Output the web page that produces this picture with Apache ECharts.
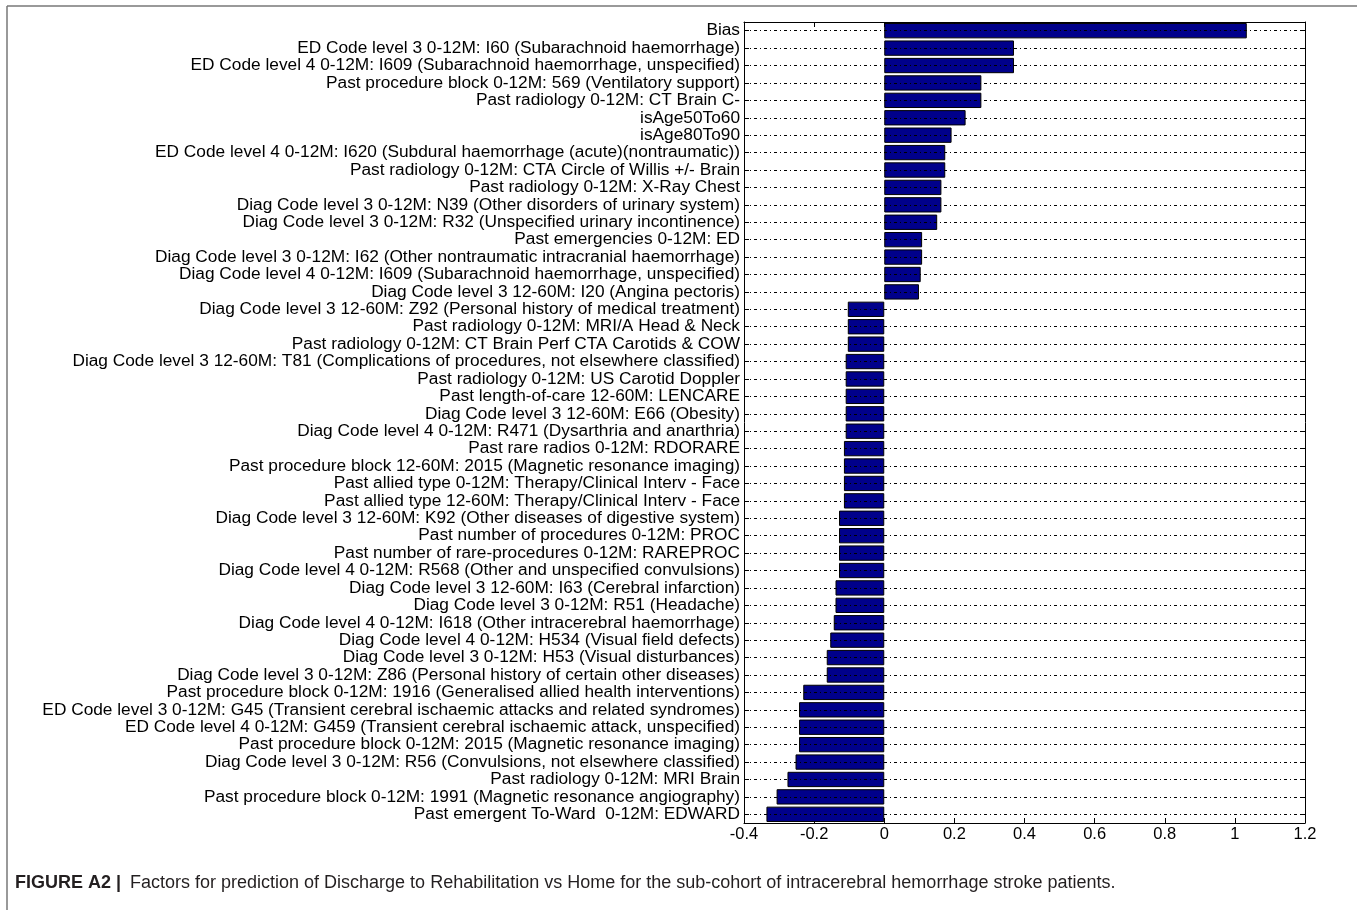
<!DOCTYPE html>
<html>
<head>
<meta charset="utf-8">
<script src="https://cdn.jsdelivr.net/npm/echarts@6/dist/echarts.min.js"></script>
<style>
html,body{margin:0;padding:0;background:#fff;}
#c{width:1357px;height:910px;}
</style>
</head>
<body>
<div id="c"></div>
<script>
const categories = [
  "Bias",
  "ED Code level 3 0-12M: I60 (Subarachnoid haemorrhage)",
  "ED Code level 4 0-12M: I609 (Subarachnoid haemorrhage, unspecified)",
  "Past procedure block 0-12M: 569 (Ventilatory support)",
  "Past radiology 0-12M: CT Brain C-",
  "isAge50To60",
  "isAge80To90",
  "ED Code level 4 0-12M: I620 (Subdural haemorrhage (acute)(nontraumatic))",
  "Past radiology 0-12M: CTA Circle of Willis +/- Brain",
  "Past radiology 0-12M: X-Ray Chest",
  "Diag Code level 3 0-12M: N39 (Other disorders of urinary system)",
  "Diag Code level 3 0-12M: R32 (Unspecified urinary incontinence)",
  "Past emergencies 0-12M: ED",
  "Diag Code level 3 0-12M: I62 (Other nontraumatic intracranial haemorrhage)",
  "Diag Code level 4 0-12M: I609 (Subarachnoid haemorrhage, unspecified)",
  "Diag Code level 3 12-60M: I20 (Angina pectoris)",
  "Diag Code level 3 12-60M: Z92 (Personal history of medical treatment)",
  "Past radiology 0-12M: MRI/A Head & Neck",
  "Past radiology 0-12M: CT Brain Perf CTA Carotids & COW",
  "Diag Code level 3 12-60M: T81 (Complications of procedures, not elsewhere classified)",
  "Past radiology 0-12M: US Carotid Doppler",
  "Past length-of-care 12-60M: LENCARE",
  "Diag Code level 3 12-60M: E66 (Obesity)",
  "Diag Code level 4 0-12M: R471 (Dysarthria and anarthria)",
  "Past rare radios 0-12M: RDORARE",
  "Past procedure block 12-60M: 2015 (Magnetic resonance imaging)",
  "Past allied type 0-12M: Therapy/Clinical Interv - Face",
  "Past allied type 12-60M: Therapy/Clinical Interv - Face",
  "Diag Code level 3 12-60M: K92 (Other diseases of digestive system)",
  "Past number of procedures 0-12M: PROC",
  "Past number of rare-procedures 0-12M: RAREPROC",
  "Diag Code level 4 0-12M: R568 (Other and unspecified convulsions)",
  "Diag Code level 3 12-60M: I63 (Cerebral infarction)",
  "Diag Code level 3 0-12M: R51 (Headache)",
  "Diag Code level 4 0-12M: I618 (Other intracerebral haemorrhage)",
  "Diag Code level 4 0-12M: H534 (Visual field defects)",
  "Diag Code level 3 0-12M: H53 (Visual disturbances)",
  "Diag Code level 3 0-12M: Z86 (Personal history of certain other diseases)",
  "Past procedure block 0-12M: 1916 (Generalised allied health interventions)",
  "ED Code level 3 0-12M: G45 (Transient cerebral ischaemic attacks and related syndromes)",
  "ED Code level 4 0-12M: G459 (Transient cerebral ischaemic attack, unspecified)",
  "Past procedure block 0-12M: 2015 (Magnetic resonance imaging)",
  "Diag Code level 3 0-12M: R56 (Convulsions, not elsewhere classified)",
  "Past radiology 0-12M: MRI Brain",
  "Past procedure block 0-12M: 1991 (Magnetic resonance angiography)",
  "Past emergent To-Ward  0-12M: EDWARD"
];
const values = [
  1.034, 0.370, 0.370, 0.277, 0.277, 0.232, 0.192, 0.174, 0.174, 0.163,
  0.163, 0.151, 0.108, 0.108, 0.104, 0.099, -0.104, -0.104, -0.104, -0.110,
  -0.110, -0.110, -0.110, -0.110, -0.115, -0.115, -0.115, -0.115, -0.129, -0.129,
  -0.129, -0.129, -0.139, -0.139, -0.144, -0.154, -0.164, -0.164, -0.231, -0.243,
  -0.243, -0.243, -0.253, -0.276, -0.307, -0.336
];
const xTicks = [-0.4, -0.2, 0, 0.2, 0.4, 0.6, 0.8, 1, 1.2];
const captionBold = "FIGURE A2 |";
const captionText = "Factors for prediction of Discharge to Rehabilitation vs Home for the sub-cohort of intracerebral hemorrhage stroke patients.";

const chart = echarts.init(document.getElementById('c'), null, {renderer: 'canvas'});
const FONT = 'Liberation Sans, Arial, sans-serif';
const xAxisCommon = {
  type: 'value', min: xTicks[0], max: xTicks[xTicks.length - 1], interval: 0.2,
  axisLine: {show: true, onZero: false, lineStyle: {color: '#000', width: 1}},
  axisTick: {show: true, inside: true, length: 5, lineStyle: {color: '#000'}},
  splitLine: {show: false}
};
const yAxisCommon = {
  type: 'category', data: categories, inverse: true,
  axisLine: {show: true, onZero: false, lineStyle: {color: '#000', width: 1}},
  axisTick: {show: true, inside: true, alignWithLabel: true, length: 5, lineStyle: {color: '#000'}},
  splitLine: {show: false}
};
chart.setOption({
  animation: false,
  backgroundColor: '#fff',
  grid: {left: 744, right: 52, top: 22, bottom: 87},
  xAxis: [
    Object.assign({}, xAxisCommon, {position: 'bottom',
      axisLabel: {show: true, color: '#000', fontFamily: FONT, fontSize: 16.5, margin: 3,
        formatter: v => String(Math.round(v * 10) / 10)}}),
    Object.assign({}, xAxisCommon, {position: 'top', axisLabel: {show: false}})
  ],
  yAxis: [
    Object.assign({}, yAxisCommon, {position: 'left',
      axisLabel: {show: true, color: '#000', fontFamily: FONT, fontSize: 17.3, margin: 4, interval: 0}}),
    Object.assign({}, yAxisCommon, {position: 'right', axisLabel: {show: false}})
  ],
  series: [
    {
      type: 'line', xAxisIndex: 0, yAxisIndex: 0, data: [], z: 1, silent: true,
      markLine: {
        silent: true, symbol: 'none', animation: false,
        label: {show: false},
        lineStyle: {color: '#000', width: 1, type: [3, 3, 1, 3]},
        data: categories.map(c => ({yAxis: c}))
      }
    },
    {
      type: 'bar', xAxisIndex: 0, yAxisIndex: 0, data: values, z: 3,
      barCategoryGap: '12%',
      itemStyle: {color: '#00008b', borderColor: '#000', borderWidth: 1}
    }
  ],
  graphic: [
    {type: 'line', shape: {x1: 7, y1: 6, x2: 1357, y2: 6}, style: {stroke: '#777', lineWidth: 1.5}},
    {type: 'line', shape: {x1: 7, y1: 6, x2: 7, y2: 910}, style: {stroke: '#777', lineWidth: 1.5}},
    {type: 'text', left: 15, top: 874, style: {text: captionBold, font: 'bold 18px ' + FONT, fill: '#231f20'}},
    {type: 'text', left: 130, top: 874, style: {text: captionText, font: '18px ' + FONT, fill: '#231f20'}}
  ]
});
</script>
</body>
</html>
